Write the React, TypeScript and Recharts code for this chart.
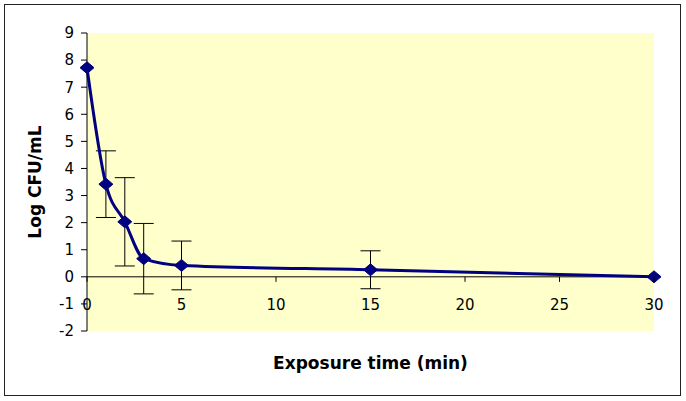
import { LineChart, Line, XAxis, YAxis, CartesianGrid, ErrorBar, ReferenceLine } from 'recharts';

const times = [0, 1, 2, 3, 5, 15, 30];
const logCfu = [7.72, 3.42, 2.03, 0.67, 0.42, 0.26, 0.0];
const sd = [0, 1.23, 1.63, 1.3, 0.9, 0.7, 0];
const xTicks = [0, 5, 10, 15, 20, 25, 30];
const yTicks = [-2, -1, 0, 1, 2, 3, 4, 5, 6, 7, 8, 9];

const data = times.map((t, i) => ({ time: t, cfu: logCfu[i], err: sd[i] }));

const W = 686;
const H = 401;
const M = { top: 33, right: 32, left: 0, bottom: 0 };
const X_AXIS_H = 70;
const Y_MIN = -2;
const Y_MAX = 9;
const PLOT_H = H - M.top - M.bottom - X_AXIS_H;
// distance from plot bottom up to the y=0 line
const ZERO_OFF = (PLOT_H * (0 - Y_MIN)) / (Y_MAX - Y_MIN);
const FONT = '"DejaVu Sans", Arial, sans-serif';

const Diamond = (props: any) => {
  const { cx, cy } = props;
  if (cx == null || cy == null) return null;
  return <path d={`M${cx},${cy - 6} L${cx + 7},${cy} L${cx},${cy + 6} L${cx - 7},${cy} Z`} fill="#000080" stroke="#000080" />;
};

const XTick = (props: any) => {
  const { x, y, payload } = props;
  const y0 = y - ZERO_OFF;
  return (
    <g>
      <line x1={x} y1={y0} x2={x} y2={y0 + 5} stroke="#000" />
      <text x={x} y={y0 + 33} textAnchor="middle" fontSize={15} fontFamily={FONT} fill="#000">
        {payload.value}
      </text>
    </g>
  );
};

export default function App() {
  return (
    <div style={{ position: 'absolute', left: 0, top: 0, width: W, height: H, background: '#fff' }}>
      <LineChart width={W} height={H} data={data} margin={M}>
        <CartesianGrid horizontal={false} vertical={false} fill="#FFFFCC" />
        <XAxis
          dataKey="time"
          type="number"
          domain={[0, 30]}
          ticks={xTicks}
          height={X_AXIS_H}
          axisLine={false}
          tickLine={false}
          tickSize={0}
          tickMargin={0}
          tick={<XTick />}
          interval={0}
          label={{ value: 'Exposure time (min)', position: 'center', dy: -3, fontSize: 17, fontWeight: 'bold', fontFamily: FONT, fill: '#000' }}
        />
        <YAxis
          type="number"
          domain={[Y_MIN, Y_MAX]}
          ticks={yTicks}
          width={87}
          interval={0}
          axisLine={{ stroke: '#000' }}
          tickLine={{ stroke: '#000' }}
          tickSize={6}
          tickMargin={7}
          tick={{ fontSize: 15, fontFamily: FONT, fill: '#000' }}
          label={{ value: 'Log CFU/mL', angle: -90, position: 'center', dx: -9, fontSize: 17, fontWeight: 'bold', fontFamily: FONT, fill: '#000' }}
        />
        <ReferenceLine y={0} stroke="#000" strokeWidth={1} />
        <Line
          dataKey="cfu"
          type="monotone"
          stroke="#000080"
          strokeWidth={3}
          dot={<Diamond />}
          activeDot={false}
          isAnimationActive={false}
        >
          <ErrorBar dataKey="err" direction="y" width={10} stroke="#000" strokeWidth={1} isAnimationActive={false} />
        </Line>
      </LineChart>
      <div
        style={{
          position: 'absolute',
          left: 4,
          top: 4,
          width: 675,
          height: 390,
          border: '1.5px solid #222',
          pointerEvents: 'none',
        }}
      />
    </div>
  );
}
